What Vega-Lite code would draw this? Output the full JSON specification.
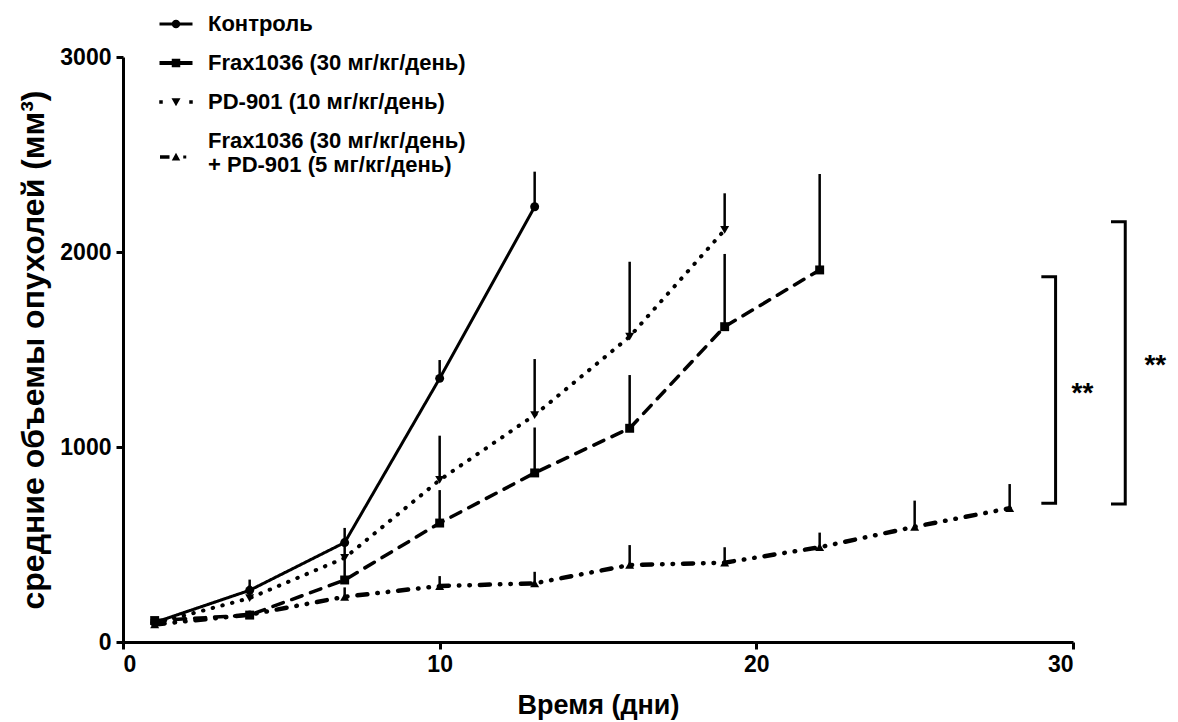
{
  "$schema": "https://vega.github.io/schema/vega-lite/v6.json",
  "width": 950,
  "height": 585,
  "autosize": {"type": "none"},
  "padding": {"left": 123, "top": 57, "right": 105, "bottom": 80},
  "background": "white",
  "config": {
    "font": "Liberation Sans",
    "view": {"stroke": null},
    "axis": {
      "grid": false,
      "domainColor": "black",
      "domainWidth": 3,
      "tickColor": "black",
      "tickWidth": 3,
      "tickSize": 7,
      "labelFont": "Liberation Sans",
      "labelFontWeight": "bold",
      "labelFontSize": 23,
      "labelColor": "black",
      "titleFont": "Liberation Sans",
      "titleFontWeight": "bold",
      "titleColor": "black"
    }
  },
  "resolve": {"scale": {"shape": "independent"}, "legend": {"shape": "independent"}},
  "datasets": {
    "series": [
      {"group": "Контроль", "day": 1, "mean": 100, "upper": 115},
      {"group": "Контроль", "day": 4, "mean": 265, "upper": 320},
      {"group": "Контроль", "day": 7, "mean": 510, "upper": 585},
      {"group": "Контроль", "day": 10, "mean": 1352, "upper": 1446},
      {"group": "Контроль", "day": 13, "mean": 2232, "upper": 2412},
      {"group": "Frax1036 (30 мг/кг/день)", "day": 1, "mean": 110, "upper": 125},
      {"group": "Frax1036 (30 мг/кг/день)", "day": 4, "mean": 138, "upper": 160},
      {"group": "Frax1036 (30 мг/кг/день)", "day": 7, "mean": 318, "upper": 420},
      {"group": "Frax1036 (30 мг/кг/день)", "day": 10, "mean": 610, "upper": 779},
      {"group": "Frax1036 (30 мг/кг/день)", "day": 13, "mean": 867, "upper": 1100},
      {"group": "Frax1036 (30 мг/кг/день)", "day": 16, "mean": 1096, "upper": 1369},
      {"group": "Frax1036 (30 мг/кг/день)", "day": 19, "mean": 1617, "upper": 1990},
      {"group": "Frax1036 (30 мг/кг/день)", "day": 22, "mean": 1908, "upper": 2400},
      {"group": "PD-901 (10 мг/кг/день)", "day": 1, "mean": 95, "upper": 110},
      {"group": "PD-901 (10 мг/кг/день)", "day": 4, "mean": 225, "upper": 290},
      {"group": "PD-901 (10 мг/кг/день)", "day": 7, "mean": 431, "upper": 520},
      {"group": "PD-901 (10 мг/кг/день)", "day": 10, "mean": 831, "upper": 1058},
      {"group": "PD-901 (10 мг/кг/день)", "day": 13, "mean": 1164, "upper": 1451},
      {"group": "PD-901 (10 мг/кг/день)", "day": 16, "mean": 1566, "upper": 1950},
      {"group": "PD-901 (10 мг/кг/день)", "day": 19, "mean": 2113, "upper": 2301},
      {"group": "Frax1036 (30 мг/кг/день) + PD-901 (5 мг/кг/день)", "day": 1, "mean": 90, "upper": 100},
      {"group": "Frax1036 (30 мг/кг/день) + PD-901 (5 мг/кг/день)", "day": 4, "mean": 140, "upper": 160},
      {"group": "Frax1036 (30 мг/кг/день) + PD-901 (5 мг/кг/день)", "day": 7, "mean": 232, "upper": 280},
      {"group": "Frax1036 (30 мг/кг/день) + PD-901 (5 мг/кг/день)", "day": 10, "mean": 287, "upper": 338},
      {"group": "Frax1036 (30 мг/кг/день) + PD-901 (5 мг/кг/день)", "day": 13, "mean": 301, "upper": 360},
      {"group": "Frax1036 (30 мг/кг/день) + PD-901 (5 мг/кг/день)", "day": 16, "mean": 395, "upper": 497},
      {"group": "Frax1036 (30 мг/кг/день) + PD-901 (5 мг/кг/день)", "day": 19, "mean": 407, "upper": 486},
      {"group": "Frax1036 (30 мг/кг/день) + PD-901 (5 мг/кг/день)", "day": 22, "mean": 486, "upper": 561},
      {"group": "Frax1036 (30 мг/кг/день) + PD-901 (5 мг/кг/день)", "day": 25, "mean": 591, "upper": 725},
      {"group": "Frax1036 (30 мг/кг/день) + PD-901 (5 мг/кг/день)", "day": 28, "mean": 686, "upper": 810}
    ],
    "legendItems": [
      {"entry": "Контроль"},
      {"entry": "Frax1036 (30 мг/кг/день)"},
      {"entry": "PD-901 (10 мг/кг/день)"},
      {"entry": "Frax1036 (30 мг/кг/день) + PD-901 (5 мг/кг/день)"}
    ],
    "brackets": [
      {"bracket": "inner", "order": 1, "day": 29.0, "value": 1873},
      {"bracket": "inner", "order": 2, "day": 29.45, "value": 1873},
      {"bracket": "inner", "order": 3, "day": 29.45, "value": 711},
      {"bracket": "inner", "order": 4, "day": 29.0, "value": 711},
      {"bracket": "outer", "order": 1, "day": 31.2, "value": 2155},
      {"bracket": "outer", "order": 2, "day": 31.65, "value": 2155},
      {"bracket": "outer", "order": 3, "day": 31.65, "value": 708},
      {"bracket": "outer", "order": 4, "day": 31.2, "value": 708}
    ],
    "stars": [
      {"day": 30.3, "value": 1270, "label": "**"},
      {"day": 32.6, "value": 1415, "label": "**"}
    ]
  },
  "layer": [
    {
      "data": {"name": "series"},
      "mark": {"type": "line", "strokeCap": "round", "color": "black"},
      "encoding": {
        "x": {
          "field": "day", "type": "quantitative",
          "scale": {"domain": [0, 30], "nice": false, "zero": false},
          "axis": {"values": [0, 10, 20, 30], "format": "d", "title": "Время (дни)", "titleFontSize": 27, "labelPadding": 4, "titlePadding": 16}
        },
        "y": {
          "field": "mean", "type": "quantitative",
          "scale": {"domain": [0, 3000], "nice": false},
          "axis": {"values": [0, 1000, 2000, 3000], "format": "d", "title": "средние объемы опухолей (мм³)", "titleFontSize": 32, "labelPadding": 5, "titlePadding": 9}
        },
        "strokeDash": {
          "field": "group", "type": "nominal",
          "scale": {
            "domain": ["Контроль", "Frax1036 (30 мг/кг/день)", "PD-901 (10 мг/кг/день)", "Frax1036 (30 мг/кг/день) + PD-901 (5 мг/кг/день)"],
            "range": [[1, 0], [11, 9], [0.5, 9.5], [10, 10, 0.5, 10, 0.5, 10]]
          },
          "legend": null
        },
        "strokeWidth": {
          "field": "group", "type": "nominal",
          "scale": {
            "domain": ["Контроль", "Frax1036 (30 мг/кг/день)", "PD-901 (10 мг/кг/день)", "Frax1036 (30 мг/кг/день) + PD-901 (5 мг/кг/день)"],
            "range": [3, 4.5, 4.5, 4]
          },
          "legend": null
        }
      }
    },
    {
      "data": {"name": "series"},
      "mark": {"type": "rule", "color": "black", "strokeWidth": 2.5},
      "encoding": {
        "x": {"field": "day", "type": "quantitative"},
        "y": {"field": "mean", "type": "quantitative"},
        "y2": {"field": "upper"}
      }
    },
    {
      "data": {"name": "series"},
      "mark": {"type": "point", "filled": true, "color": "black", "opacity": 1, "size": 80},
      "encoding": {
        "x": {"field": "day", "type": "quantitative"},
        "y": {"field": "mean", "type": "quantitative"},
        "shape": {
          "field": "group", "type": "nominal",
          "scale": {
            "domain": ["Контроль", "Frax1036 (30 мг/кг/день)", "PD-901 (10 мг/кг/день)", "Frax1036 (30 мг/кг/день) + PD-901 (5 мг/кг/день)"],
            "range": ["circle", "square", "triangle-down", "triangle-up"]
          },
          "legend": null
        }
      }
    },
    {
      "data": {"name": "legendItems"},
      "mark": {"type": "point", "filled": true, "color": "black", "opacity": 0, "size": 100},
      "encoding": {
        "shape": {
          "field": "entry", "type": "nominal",
          "scale": {
            "domain": ["Контроль", "Frax1036 (30 мг/кг/день)", "PD-901 (10 мг/кг/день)", "Frax1036 (30 мг/кг/день) + PD-901 (5 мг/кг/день)"],
            "range": [
              "M-3.3,-0.3H3.3V0.3H-3.3ZM-0.85,0A0.85,0.85 0 1,1 0.85,0A0.85,0.85 0 1,1 -0.85,0Z",
              "M-3.3,-0.4H3.3V0.4H-3.3ZM-0.85,-0.85H0.85V0.85H-0.85Z",
              "M-3.35,-0.35H-2.65V0.35H-3.35ZM-0.9,-0.75H0.9L0,0.85ZM2.65,-0.35H3.35V0.35H2.65Z",
              "M-3.2,2.85H-1.3V3.55H-3.2ZM-0.85,3.9H0.85L0,2.35ZM1.45,2.9H2.05V3.5H1.45Z"
            ]
          },
          "legend": {
            "title": null,
            "orient": "none",
            "legendX": 42,
            "legendY": -44,
            "padding": 0,
            "rowPadding": 17,
            "labelFont": "Liberation Sans",
            "labelFontSize": 22,
            "labelFontWeight": "bold",
            "labelColor": "black",
            "labelLimit": 500,
            "labelOffset": 21,
            "symbolSize": 100,
            "symbolOpacity": 1,
            "symbolFillColor": "black",
            "symbolStrokeWidth": 0,
            "labelExpr": "datum.label === 'Frax1036 (30 мг/кг/день) + PD-901 (5 мг/кг/день)' ? ['Frax1036 (30 мг/кг/день)', '+ PD-901 (5 мг/кг/день)'] : datum.label"
          }
        }
      }
    },
    {
      "data": {"name": "brackets"},
      "mark": {"type": "line", "color": "black", "strokeWidth": 3, "strokeJoin": "miter"},
      "encoding": {
        "x": {"field": "day", "type": "quantitative"},
        "y": {"field": "value", "type": "quantitative"},
        "detail": {"field": "bracket"},
        "order": {"field": "order"}
      }
    },
    {
      "data": {"name": "stars"},
      "mark": {"type": "text", "font": "Liberation Sans", "fontWeight": "bold", "fontSize": 28, "color": "black", "align": "center", "baseline": "middle"},
      "encoding": {
        "x": {"field": "day", "type": "quantitative"},
        "y": {"field": "value", "type": "quantitative"},
        "text": {"field": "label"}
      }
    }
  ]
}
